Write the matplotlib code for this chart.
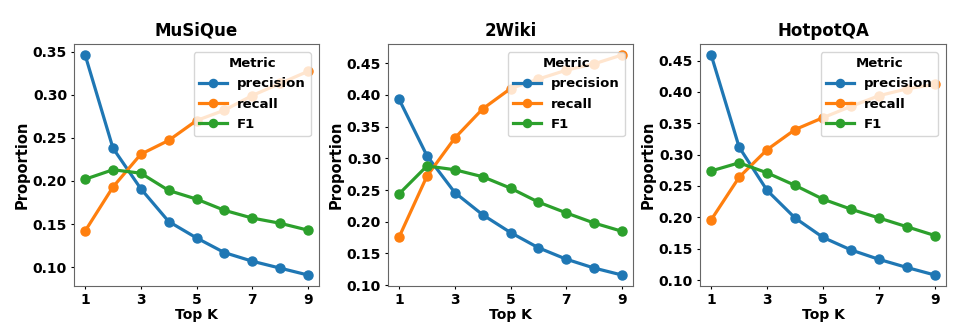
import matplotlib
matplotlib.use("Agg")
import matplotlib.pyplot as plt

top_k = [1, 2, 3, 4, 5, 6, 7, 8, 9]
datasets = ["MuSiQue", "2Wiki", "HotpotQA"]
metrics = ["precision", "recall", "F1"]

musique_precision = [0.346, 0.238, 0.191, 0.153, 0.134, 0.117, 0.107, 0.099, 0.091]
musique_recall = [0.142, 0.193, 0.231, 0.247, 0.270, 0.282, 0.299, 0.313, 0.327]
musique_f1 = [0.202, 0.213, 0.209, 0.189, 0.179, 0.166, 0.157, 0.151, 0.143]

wiki_precision = [0.393, 0.304, 0.246, 0.211, 0.183, 0.159, 0.141, 0.127, 0.116]
wiki_recall = [0.176, 0.272, 0.332, 0.378, 0.410, 0.425, 0.439, 0.449, 0.463]
wiki_f1 = [0.244, 0.288, 0.282, 0.271, 0.253, 0.231, 0.214, 0.198, 0.185]

hotpot_precision = [0.459, 0.312, 0.243, 0.199, 0.168, 0.148, 0.133, 0.120, 0.108]
hotpot_recall = [0.196, 0.264, 0.308, 0.340, 0.359, 0.377, 0.394, 0.405, 0.412]
hotpot_f1 = [0.274, 0.287, 0.271, 0.251, 0.229, 0.213, 0.199, 0.185, 0.171]

series = {
    "MuSiQue": [musique_precision, musique_recall, musique_f1],
    "2Wiki": [wiki_precision, wiki_recall, wiki_f1],
    "HotpotQA": [hotpot_precision, hotpot_recall, hotpot_f1],
}
colors = ["#1f77b4", "#ff7f0e", "#2ca02c"]

W, H = 966, 332
fig = plt.figure(figsize=(W / 100, H / 100), dpi=100)

# axes boxes in pixels: (left, right, top, bottom)
boxes = [(74, 319, 44, 286), (388, 633, 44, 286), (700, 946, 44, 286)]

for name, (l, r, t, b) in zip(datasets, boxes):
    ax = fig.add_axes([l / W, 1 - b / H, (r - l) / W, (b - t) / H])
    for vals, label, c in zip(series[name], metrics, colors):
        ax.plot(top_k, vals, marker="o", color=c, lw=2.3, ms=6.5, label=label)
    ax.set_title(name, fontsize=12, fontweight="bold")
    ax.set_xlabel("Top K", fontsize=10, fontweight="bold", labelpad=0.5)
    ax.set_ylabel("Proportion", fontsize=10.5, fontweight="bold", labelpad=2)
    ax.set_xticks([1, 3, 5, 7, 9])
    ax.tick_params(labelsize=10, length=2.5, pad=2.5)
    for lab in ax.get_xticklabels() + ax.get_yticklabels():
        lab.set_fontweight("bold")
    for sp in ax.spines.values():
        sp.set_color("#666666")
    leg = ax.legend(title="Metric", loc="upper right",
                    title_fontproperties={"weight": "bold", "size": 9.5},
                    prop={"weight": "bold", "size": 9.5},
                    borderaxespad=0.6, handlelength=2.1, labelspacing=0.55,
                    markerscale=0.9)

fig.savefig("out.png", dpi=100)
